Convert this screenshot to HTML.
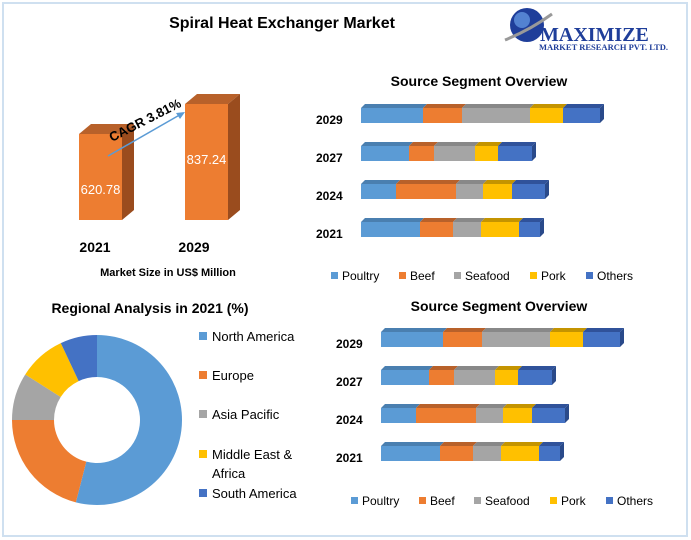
<!DOCTYPE html>
<html><head><meta charset="utf-8"><style>
body{margin:0;background:#fff;font-family:"Liberation Sans",sans-serif}
#wrap{position:relative;width:691px;height:540px;overflow:hidden}
svg text{font-family:"Liberation Sans",sans-serif}
</style></head><body>
<div id="wrap">
<svg id="s" width="691" height="540">
<rect x="3" y="3" width="684" height="533" fill="none" stroke="#cfe0f0" stroke-width="2"/>
<text x="282" y="28" font-size="16" font-weight="bold" text-anchor="middle">Spiral Heat Exchanger Market</text>
<g>
<circle cx="527" cy="25" r="17" fill="#1f3e9a"/><circle cx="522" cy="20" r="8" fill="#6aa0e8" opacity="0.7"/>
<path d="M505 40 Q530 30 552 14" stroke="#999" stroke-width="3" fill="none"/>
<text x="540" y="41" font-size="20" font-weight="bold" fill="#1f3e9a" style="font-family:'Liberation Serif',serif">MAXIMIZE</text>
<text x="539" y="50" font-size="8.5" font-weight="bold" fill="#1f3e9a" style="font-family:'Liberation Serif',serif">MARKET RESEARCH PVT. LTD.</text>
</g>
<text x="168" y="276" font-size="11" font-weight="bold" text-anchor="middle">Market Size in US$ Million</text>
<text x="150" y="313" font-size="14" font-weight="bold" text-anchor="middle">Regional Analysis in 2021 (%)</text>
<text x="479" y="86" font-size="14" font-weight="bold" text-anchor="middle">Source Segment Overview</text>
<text x="499" y="311" font-size="14" font-weight="bold" text-anchor="middle">Source Segment Overview</text>
</svg>
</div>
<script>
const NS="http://www.w3.org/2000/svg";const S=document.getElementById('s');
function mk(t,a,p){const e=document.createElementNS(NS,t);for(const k in a)e.setAttribute(k,a[k]);(p||S).appendChild(e);return e;}
// Market size
const years=['2021','2029'];
const sizes=[620.78,837.24];
const yBase=220, yScale=116/837.24;
const bx=[79,185];
const lblX=[95,194];
years.forEach((y,i)=>{
 const h=sizes[i]*yScale, top=yBase-h, x=bx[i], w=43, d=12;
 const g=mk('g',{});
 
 
 mk('polygon',{points:`${x},${top} ${x+d},${top-10} ${x+w+d},${top-10} ${x+w},${top}`,fill:'#b8612a'},g);
 mk('polygon',{points:`${x+w},${top} ${x+w+d},${top-10} ${x+w+d},${yBase-10} ${x+w},${yBase}`,fill:'#9a4c1e'},g);
 mk('rect',{x:x,y:top,width:w,height:h,fill:'#ed7d31'},g);
 const v=mk('text',{x:x+w/2,y:top+h-26+(i?-30:0),'font-size':13,fill:'#fff','text-anchor':'middle'},g);v.textContent=sizes[i];
 const l=mk('text',{x:lblX[i],y:252,'font-size':14,'font-weight':'bold','text-anchor':'middle'});l.textContent=y;
 
 
});
const ar=mk('line',{x1:108,y1:156,x2:183,y2:113,stroke:'#5b9bd5','stroke-width':1.5});


mk('polygon',{points:'185,112 176,113 180,119',fill:'#5b9bd5'});
const cg=mk('text',{x:0,y:0,'font-size':13,'font-weight':'bold',transform:'translate(112,142) rotate(-27)'});cg.textContent='CAGR 3.81%';


// Segment charts
const segYears=['2029','2027','2024','2021'];
const segNames=['Poultry','Beef','Seafood','Pork','Others'];
const cols=['#5b9bd5','#ed7d31','#a5a5a5','#ffc000','#4472c4'];
const tops=['#4a7fb0','#b8612a','#888','#c49400','#30529a'];
const poultry=[62,48,35,59];
const beef=[39,25,60,33];
const seafood=[68,41,27,28];
const pork=[33,23,29,38];
const others=[37,34,33,21];
const series=[poultry,beef,seafood,pork,others];
function segChart(x0,y0,legY,idx){
 segYears.forEach((yr,r)=>{
  const y=y0+r*38;let x=x0;
  const lb=mk('text',{x:x0-45,y:y+16,'font-size':12,'font-weight':'bold'});lb.textContent=yr;
  
  
  series.forEach((s,k)=>{
   const w=s[r];
   mk('polygon',{points:`${x},${y} ${x+4},${y-4} ${x+w+4},${y-4} ${x+w},${y}`,fill:tops[k]});
   const b=mk('rect',{x:x,y:y,width:w,height:15,fill:cols[k]});
   
   
   x+=w;
  });
  mk('polygon',{points:`${x},${y} ${x+4},${y-4} ${x+4},${y+11} ${x},${y+15}`,fill:'#2a4a8a'});
 });
 const lx=[x0-30,x0+38,x0+93,x0+169,x0+225];
 segNames.forEach((n,k)=>{
  const g=mk('g',{});
  
  
  mk('rect',{x:lx[k],y:legY-8,width:7,height:7,fill:cols[k]},g);
  const t=mk('text',{x:lx[k]+11,y:legY,'font-size':12},g);t.textContent=n;
 });
}
segChart(361,108,280,0);
segChart(381,332,505,1);
// Donut
const regions=['North America','Europe','Asia Pacific','Middle East & Africa','South America'];
const shares=[54,21,9,9,7];
const rcols=['#5b9bd5','#ed7d31','#a5a5a5','#ffc000','#4472c4'];
const cx=97,cy=420,R=85,ri=43;
let a=0;const tot=shares.reduce((p,c)=>p+c,0);
shares.forEach((v,i)=>{
 const a1=a+v/tot*2*Math.PI;
 const p=(ang,r)=>[cx+r*Math.sin(ang),cy-r*Math.cos(ang)];
 const [x1,y1]=p(a,R),[x2,y2]=p(a1,R),[x3,y3]=p(a1,ri),[x4,y4]=p(a,ri);
 const lg=(a1-a)>Math.PI?1:0;
 const e=mk('path',{d:`M${x1},${y1} A${R},${R} 0 ${lg} 1 ${x2},${y2} L${x3},${y3} A${ri},${ri} 0 ${lg} 0 ${x4},${y4}Z`,fill:rcols[i]});
 
 
 a=a1;
});
const ly=[341,380,419,459,498];
regions.forEach((n,i)=>{
 const g=mk('g',{});
 
 
 mk('rect',{x:199,y:ly[i]-9,width:8,height:8,fill:rcols[i]},g);
 if(i===3){const t=mk('text',{x:212,y:ly[i],'font-size':13},g);t.textContent='Middle East &';const t2=mk('text',{x:212,y:ly[i]+19,'font-size':13},g);t2.textContent='Africa';}
 else{const t=mk('text',{x:212,y:ly[i],'font-size':13},g);t.textContent=n;}
});
</script>
</body></html>
